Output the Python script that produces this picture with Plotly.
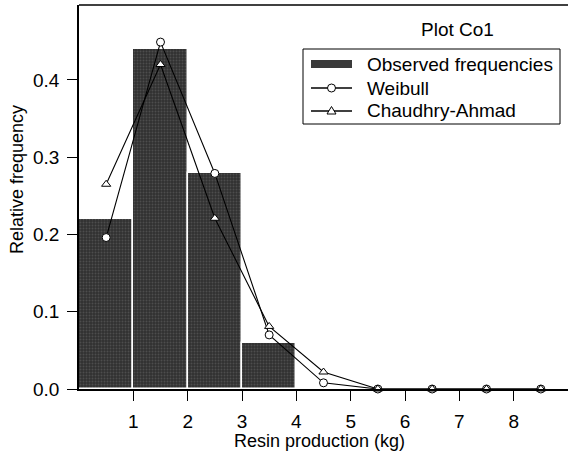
import plotly.graph_objects as go

# Resin production classes (kg) and class midpoints
bin_mid = [0.5, 1.5, 2.5, 3.5, 4.5, 5.5, 6.5, 7.5, 8.5]
observed = [0.22, 0.44, 0.28, 0.06, 0.0, 0.0, 0.0, 0.0, 0.0]
weibull = [0.196, 0.449, 0.279, 0.070, 0.008, 0.0, 0.0, 0.0, 0.0]
chaudhry_ahmad = [0.265, 0.420, 0.221, 0.081, 0.022, 0.0, 0.0, 0.0, 0.0]
series_names = ["Observed frequencies", "Weibull", "Chaudhry-Ahmad"]
x_ticks = [1, 2, 3, 4, 5, 6, 7, 8]
y_ticks = [0.0, 0.1, 0.2, 0.3, 0.4]

FONT = "Liberation Sans, Arial, sans-serif"
W, H = 568, 457
ML, MR, MT, MB = 79, 0, 5, 68
PW, PH = W - ML - MR, H - MT - MB
BAR_FILL = "#3a3a3a"


def px(x):
    """Horizontal pixel -> paper fraction."""
    return (x - ML) / PW


def py(y):
    """Vertical pixel (from top) -> paper fraction."""
    return (H - MB - y) / PH


fig = go.Figure()
fig.add_trace(go.Bar(
    x=bin_mid[:4], y=observed[:4], width=1.0, name=series_names[0],
    marker=dict(color=BAR_FILL, line=dict(color="white", width=1.5),
                pattern=dict(shape=".", fgcolor="#6a6a6a", bgcolor="#303030",
                             size=3, solidity=0.35)),
))
fig.add_trace(go.Scatter(
    x=bin_mid, y=weibull, mode="lines+markers", name=series_names[1],
    line=dict(color="black", width=1.1),
    marker=dict(symbol="circle", size=8, color="white",
                line=dict(color="black", width=1)),
    cliponaxis=False,
))
fig.add_trace(go.Scatter(
    x=bin_mid, y=chaudhry_ahmad, mode="lines+markers", name=series_names[2],
    line=dict(color="black", width=1.1),
    marker=dict(symbol="triangle-up", size=8, color="white",
                line=dict(color="black", width=1)),
    cliponaxis=False,
))

shapes = []
# top frame line
shapes.append(dict(type="line", xref="paper", yref="paper", x0=0, x1=1, y0=1, y1=1,
                   line=dict(color="black", width=1.5)))

# legend box
shapes.append(dict(type="rect", xref="paper", yref="paper",
                   x0=px(303), x1=px(560), y0=py(124), y1=py(49),
                   fillcolor="white", line=dict(color="black", width=1),
                   layer="above"))
row_y = [64, 88, 111]
sym_x0, sym_x1 = 311, 352
sym_mid = (sym_x0 + sym_x1) / 2
# bar swatch
shapes.append(dict(type="rect", xref="paper", yref="paper",
                   x0=px(sym_x0), x1=px(sym_x1), y0=py(row_y[0] + 4), y1=py(row_y[0] - 4),
                   fillcolor=BAR_FILL, line=dict(width=0), layer="above"))
# line swatches with markers
for ry in row_y[1:]:
    shapes.append(dict(type="line", xref="paper", yref="paper",
                       x0=px(sym_x0), x1=px(sym_x1), y0=py(ry), y1=py(ry),
                       line=dict(color="black", width=1.3), layer="above"))
shapes.append(dict(type="circle", xref="paper", yref="paper",
                   xsizemode="pixel", ysizemode="pixel",
                   xanchor=px(sym_mid), yanchor=py(row_y[1]),
                   x0=-4, x1=4, y0=-4, y1=4,
                   fillcolor="white", line=dict(color="black", width=1), layer="above"))
shapes.append(dict(type="path", xref="paper", yref="paper",
                   xsizemode="pixel", ysizemode="pixel",
                   xanchor=px(sym_mid), yanchor=py(row_y[2]),
                   path="M -4.5 -3 L 4.5 -3 L 0 4.5 Z",
                   fillcolor="white", line=dict(color="black", width=1), layer="above"))

annotations = []
for name, ry in zip(series_names, row_y):
    annotations.append(dict(text=name, xref="paper", yref="paper",
                            x=px(365), y=py(ry), xanchor="left", yanchor="middle",
                            showarrow=False,
                            font=dict(family=FONT, size=19, color="black")))
annotations.append(dict(text="Plot Co1", xref="paper", yref="paper",
                        x=px(457), y=py(29), xanchor="center", yanchor="middle",
                        showarrow=False,
                        font=dict(family=FONT, size=19, color="black")))
annotations.append(dict(text="Relative frequency", xref="paper", yref="paper",
                        x=px(17), y=py(180), xanchor="center", yanchor="middle",
                        textangle=-90, showarrow=False,
                        font=dict(family=FONT, size=18, color="black")))
annotations.append(dict(text="Resin production (kg)", xref="paper", yref="paper",
                        x=px(319), y=py(441), xanchor="center", yanchor="middle",
                        showarrow=False,
                        font=dict(family=FONT, size=18, color="black")))

fig.update_layout(
    width=W, height=H,
    margin=dict(l=ML, r=MR, t=MT, b=MB),
    paper_bgcolor="white", plot_bgcolor="white",
    bargap=0,
    font=dict(family=FONT, size=19, color="black"),
    showlegend=False,
    shapes=shapes,
    annotations=annotations,
    xaxis=dict(range=[0, 9], tickvals=x_ticks, ticks="outside", ticklen=10,
               ticklabelstandoff=4,
               tickcolor="black", showline=True, linecolor="black", linewidth=1.5,
               showgrid=False, zeroline=False,
               tickfont=dict(family=FONT, size=19)),
    yaxis=dict(range=[0, 0.497], tickvals=y_ticks, tickformat=".1f",
               ticks="outside", ticklen=10, ticklabelstandoff=4,
               tickcolor="black",
               showline=True, linecolor="black", linewidth=1.5,
               showgrid=False, zeroline=False,
               tickfont=dict(family=FONT, size=19)),
)

fig.write_html("out.html")
